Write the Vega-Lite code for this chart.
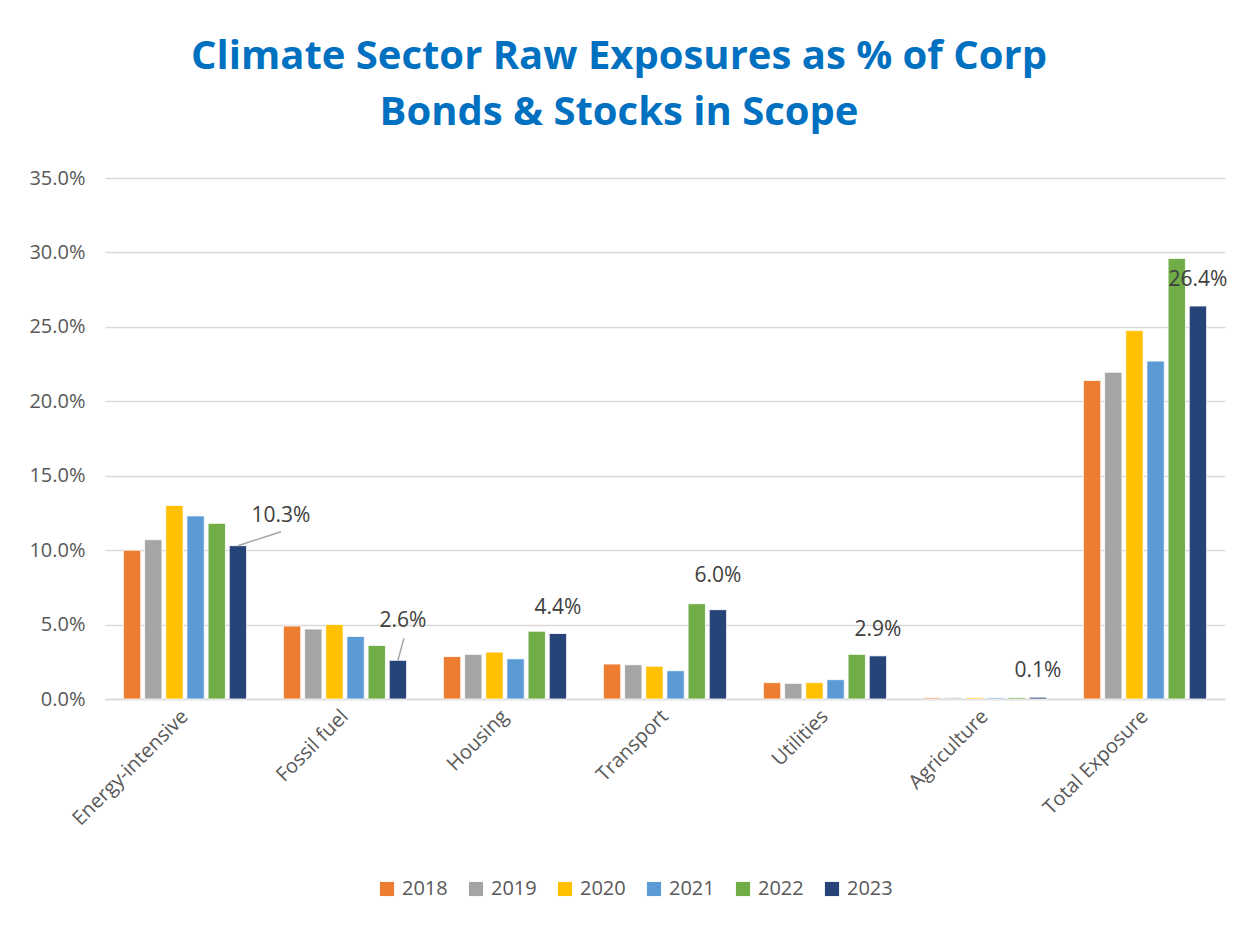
{
  "$schema": "https://vega.github.io/schema/vega-lite/v6.json",
  "width": 1120,
  "height": 521,
  "autosize": {"type": "none"},
  "padding": {"left": 105, "top": 178, "right": 26, "bottom": 228},
  "background": "white",
  "config": {"view": {"stroke": null}, "font": "Open Sans"},
  "title": {
    "text": ["Climate Sector Raw Exposures as % of Corp", "Bonds & Stocks in Scope"],
    "font": "Open Sans",
    "fontSize": 40,
    "fontWeight": "bold",
    "color": "#0070C0",
    "anchor": "middle",
    "dx": -46,
    "lineHeight": 56,
    "offset": 35
  },
  "data": {
    "values": [
      {"sector": "Energy-intensive", "year": "2018", "value": 0.100},
      {"sector": "Energy-intensive", "year": "2019", "value": 0.107},
      {"sector": "Energy-intensive", "year": "2020", "value": 0.130},
      {"sector": "Energy-intensive", "year": "2021", "value": 0.123},
      {"sector": "Energy-intensive", "year": "2022", "value": 0.118},
      {"sector": "Energy-intensive", "year": "2023", "value": 0.103},
      {"sector": "Fossil fuel", "year": "2018", "value": 0.049},
      {"sector": "Fossil fuel", "year": "2019", "value": 0.047},
      {"sector": "Fossil fuel", "year": "2020", "value": 0.050},
      {"sector": "Fossil fuel", "year": "2021", "value": 0.042},
      {"sector": "Fossil fuel", "year": "2022", "value": 0.036},
      {"sector": "Fossil fuel", "year": "2023", "value": 0.026},
      {"sector": "Housing", "year": "2018", "value": 0.0285},
      {"sector": "Housing", "year": "2019", "value": 0.030},
      {"sector": "Housing", "year": "2020", "value": 0.0315},
      {"sector": "Housing", "year": "2021", "value": 0.027},
      {"sector": "Housing", "year": "2022", "value": 0.0455},
      {"sector": "Housing", "year": "2023", "value": 0.044},
      {"sector": "Transport", "year": "2018", "value": 0.0235},
      {"sector": "Transport", "year": "2019", "value": 0.023},
      {"sector": "Transport", "year": "2020", "value": 0.022},
      {"sector": "Transport", "year": "2021", "value": 0.019},
      {"sector": "Transport", "year": "2022", "value": 0.064},
      {"sector": "Transport", "year": "2023", "value": 0.060},
      {"sector": "Utilities", "year": "2018", "value": 0.011},
      {"sector": "Utilities", "year": "2019", "value": 0.0105},
      {"sector": "Utilities", "year": "2020", "value": 0.011},
      {"sector": "Utilities", "year": "2021", "value": 0.013},
      {"sector": "Utilities", "year": "2022", "value": 0.030},
      {"sector": "Utilities", "year": "2023", "value": 0.029},
      {"sector": "Agriculture", "year": "2018", "value": 0.0008},
      {"sector": "Agriculture", "year": "2019", "value": 0.0008},
      {"sector": "Agriculture", "year": "2020", "value": 0.0009},
      {"sector": "Agriculture", "year": "2021", "value": 0.0008},
      {"sector": "Agriculture", "year": "2022", "value": 0.0010},
      {"sector": "Agriculture", "year": "2023", "value": 0.0012},
      {"sector": "Total Exposure", "year": "2018", "value": 0.214},
      {"sector": "Total Exposure", "year": "2019", "value": 0.2195},
      {"sector": "Total Exposure", "year": "2020", "value": 0.2475},
      {"sector": "Total Exposure", "year": "2021", "value": 0.227},
      {"sector": "Total Exposure", "year": "2022", "value": 0.296},
      {"sector": "Total Exposure", "year": "2023", "value": 0.264}
    ]
  },
  "encoding": {
    "x": {
      "field": "sector",
      "type": "nominal",
      "sort": null,
      "scale": {"paddingInner": 0.23, "paddingOuter": 0.115},
      "axis": {
        "title": null,
        "labelAngle": -45,
        "labelAlign": "right",
        "labelBaseline": "middle",
        "labelFontSize": 20,
        "labelColor": "#595959",
        "labelFont": "Open Sans",
        "labelPadding": 14,
        "ticks": false,
        "domainColor": "#D9D9D9",
        "domainWidth": 1.5,
        "grid": false
      }
    },
    "xOffset": {
      "field": "year",
      "type": "nominal",
      "scale": {"paddingInner": 0.18}
    },
    "y": {
      "field": "value",
      "type": "quantitative",
      "scale": {"domain": [0, 0.35], "nice": false},
      "axis": {
        "title": null,
        "values": [0, 0.05, 0.1, 0.15, 0.2, 0.25, 0.3, 0.35],
        "format": ".1%",
        "labelFontSize": 20,
        "labelColor": "#595959",
        "labelFont": "Open Sans",
        "labelPadding": 20,
        "ticks": false,
        "domain": false,
        "gridColor": "#D9D9D9",
        "gridWidth": 1.5
      }
    }
  },
  "layer": [
    {
      "mark": {"type": "bar", "stroke": "white", "strokeWidth": 0.8},
      "encoding": {
        "color": {
          "field": "year",
          "type": "nominal",
          "scale": {
            "domain": ["2018", "2019", "2020", "2021", "2022", "2023"],
            "range": ["#ED7D31", "#A5A5A5", "#FFC000", "#5B9BD5", "#70AD47", "#264478"]
          },
          "legend": {
            "title": null,
            "orient": "none",
            "direction": "horizontal",
            "legendX": 272,
            "legendY": 701,
            "symbolType": "square",
            "symbolSize": 200,
            "symbolStrokeWidth": 0,
            "labelFontSize": 20,
            "labelColor": "#595959",
            "labelFont": "Open Sans",
            "columnPadding": 18,
            "labelOffset": 5
          }
        }
      }
    },
    {
      "transform": [{"filter": "datum.year == '2023' && datum.sector != 'Energy-intensive' && datum.sector != 'Fossil fuel' && datum.sector != 'Transport'"}],
      "mark": {"type": "text", "dy": -26, "fontSize": 21, "color": "#404040", "font": "Open Sans"},
      "encoding": {"text": {"field": "value", "type": "quantitative", "format": ".1%"}}
    },
    {
      "transform": [{"filter": "datum.year == '2023' && datum.sector == 'Transport'"}],
      "mark": {"type": "text", "dy": -34, "fontSize": 21, "color": "#404040", "font": "Open Sans"},
      "encoding": {"text": {"field": "value", "type": "quantitative", "format": ".1%"}}
    },
    {
      "transform": [{"filter": "datum.year == '2023' && datum.sector == 'Energy-intensive'"}],
      "mark": {"type": "text", "dx": 43, "dy": -30, "fontSize": 21, "color": "#404040", "font": "Open Sans"},
      "encoding": {"text": {"field": "value", "type": "quantitative", "format": ".1%"}}
    },
    {
      "transform": [{"filter": "datum.year == '2023' && datum.sector == 'Fossil fuel'"}],
      "mark": {"type": "text", "dx": 5, "dy": -39, "fontSize": 21, "color": "#404040", "font": "Open Sans"},
      "encoding": {"text": {"field": "value", "type": "quantitative", "format": ".1%"}}
    },
    {
      "transform": [{"filter": "datum.year == '2023' && datum.sector == 'Energy-intensive'"}],
      "mark": {"type": "rule", "color": "#A6A6A6", "strokeWidth": 1.5, "x2Offset": 96, "y2Offset": -14},
      "encoding": {"x2": {"field": "sector"}, "y2": {"field": "value"}}
    },
    {
      "transform": [{"filter": "datum.year == '2023' && datum.sector == 'Fossil fuel'"}],
      "mark": {"type": "rule", "color": "#A6A6A6", "strokeWidth": 1.5, "x2Offset": 59, "y2Offset": -22},
      "encoding": {"x2": {"field": "sector"}, "y2": {"field": "value"}}
    }
  ]
}
